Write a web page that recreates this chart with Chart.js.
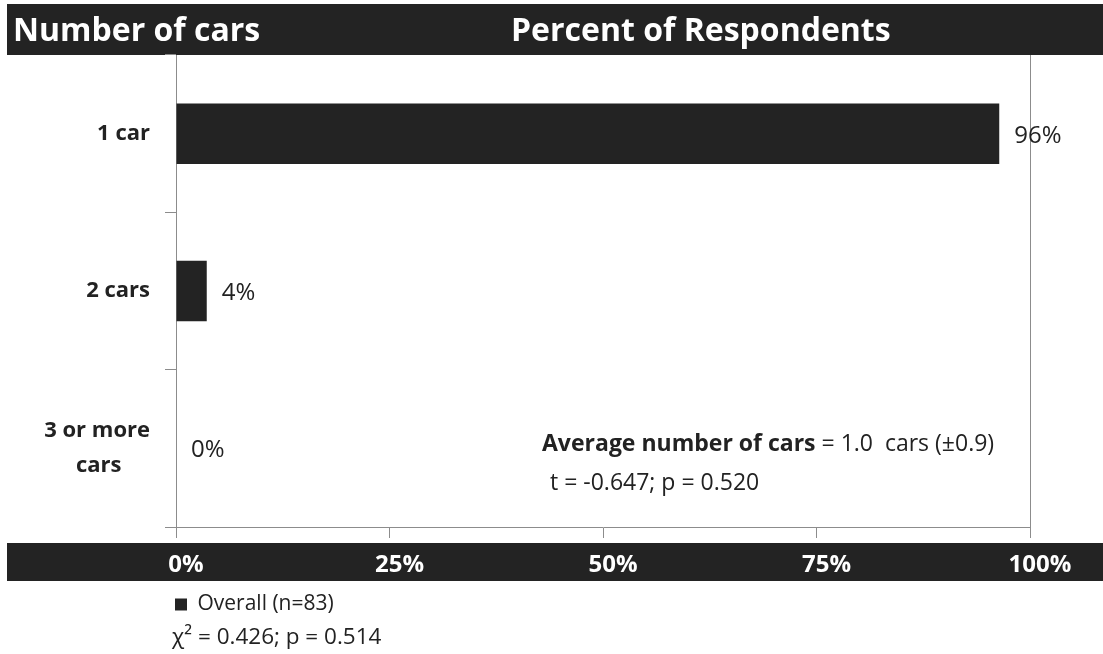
<!DOCTYPE html>
<html><head><meta charset="utf-8">
<script src="https://cdn.jsdelivr.net/npm/chart.js@4.4.0/dist/chart.umd.min.js"></script>
<style>html,body{margin:0;padding:0;background:#fff}canvas{display:block}</style>
</head><body>
<canvas id="c" width="1103" height="654"></canvas>
<script>
const categories = ['1 car', '2 cars', ['3 or more', 'cars']];
const overallValues = [96.4, 3.6, 0];
const valueLabels = ['96%', '4%', '0%'];
const xTicks = [0, 25, 50, 75, 100];
const xTickLabels = ['0%', '25%', '50%', '75%', '100%'];
const seriesName = 'Overall (n=83)';
const headerLeft = 'Number of cars';
const headerRight = 'Percent of Respondents';
const avgBold = 'Average number of cars';
const avgRest = ' = 1.0  cars (±0.9)';
const tTest = 't = -0.647; p = 0.520';
const chiSquare = 'χ² = 0.426; p = 0.514';

const FONT = '"Open Sans", "DejaVu Sans", sans-serif';
const DARK = '#232323';
const GRAY = '#8c8c8c';
const TEXT = '#222222';
const Y_FONT_SIZE = 22;

const measureCtx = document.createElement('canvas').getContext('2d');
function centerLines(lines) {
  measureCtx.font = 'bold ' + Y_FONT_SIZE + 'px ' + FONT;
  const widths = lines.map(l => measureCtx.measureText(l).width);
  const maxW = Math.max(...widths);
  const sp = measureCtx.measureText('\u00a0').width || 5;
  return lines.map((l, i) => l + '\u00a0'.repeat(Math.round((maxW - widths[i]) / 2 / sp)));
}

const decor = {
  id: 'decor',
  beforeDraw(chart) {
    const ctx = chart.ctx;
    ctx.save();
    ctx.fillStyle = DARK;
    ctx.fillRect(7, 4, 1096, 51);
    ctx.fillRect(7, 543, 1096, 38);
    ctx.fillStyle = '#ffffff';
    ctx.font = 'bold 32px ' + FONT;
    ctx.textBaseline = 'alphabetic';
    ctx.textAlign = 'left';
    ctx.fillText(headerLeft, 13, 41);
    ctx.fillText(headerRight, 511, 41);
    ctx.restore();
  },
  afterLayout(chart) {
    if (chart.legend) { chart.legend.left = 165; }
  },
  afterDatasetsDraw(chart) {
    const ctx = chart.ctx;
    ctx.save();
    ctx.fillStyle = TEXT;
    ctx.textBaseline = 'alphabetic';
    ctx.textAlign = 'left';
    ctx.font = '24px ' + FONT;
    const meta = chart.getDatasetMeta(0);
    meta.data.forEach((bar, i) => {
      ctx.fillText(valueLabels[i], bar.x + 15, bar.y + 9);
    });
    ctx.font = 'bold 23px ' + FONT;
    ctx.fillText(avgBold, 542, 451);
    const w = ctx.measureText(avgBold).width;
    ctx.font = '23px ' + FONT;
    ctx.fillText(avgRest, 542 + w, 451);
    ctx.fillText(tTest, 550, 490);
    ctx.font = '22.5px ' + FONT;
    ctx.fillText(chiSquare, 172, 644);
    ctx.restore();
  }
};

new Chart(document.getElementById('c'), {
  type: 'bar',
  data: {
    labels: categories,
    datasets: [{
      label: seriesName,
      data: overallValues,
      backgroundColor: DARK,
      borderWidth: 0,
      categoryPercentage: 1,
      barPercentage: 0.385
    }]
  },
  options: {
    indexAxis: 'y',
    responsive: false,
    animation: false,
    layout: { padding: { top: 55, right: 73, left: 0, bottom: 29 } },
    scales: {
      y: {
        afterFit(s) { s.width = 176; },
        border: { color: GRAY, width: 1 },
        grid: { drawOnChartArea: false, tickLength: 11, color: GRAY, offset: true },
        ticks: {
          crossAlign: 'near',
          padding: 15,
          color: TEXT,
          font: { family: FONT, size: Y_FONT_SIZE, weight: 'bold', lineHeight: 1.6 },
          callback: (v, i) => Array.isArray(categories[i]) ? centerLines(categories[i]) : categories[i]
        }
      },
      x: {
        min: 0, max: 100,
        afterFit(s) { s.height = 57; },
        afterBuildTicks(s) { s.ticks = xTicks.map(v => ({ value: v })); },
        border: { color: GRAY, width: 1 },
        grid: {
          tickLength: 11,
          tickColor: GRAY,
          color: (c) => (c.tick && c.tick.value === 100) ? GRAY : 'rgba(0,0,0,0)'
        },
        ticks: {
          color: '#ffffff',
          padding: 13,
          labelOffset: 10,
          font: { family: FONT, size: 24, weight: 'bold' },
          callback: (v, i) => xTickLabels[i]
        }
      }
    },
    plugins: {
      tooltip: { enabled: false },
      legend: {
        position: 'bottom',
        align: 'start',
        labels: {
          padding: 10,
          boxWidth: 12,
          boxHeight: 12,
          color: TEXT,
          font: { family: FONT, size: 21 }
        }
      }
    }
  },
  plugins: [decor]
});
</script>
</body></html>
